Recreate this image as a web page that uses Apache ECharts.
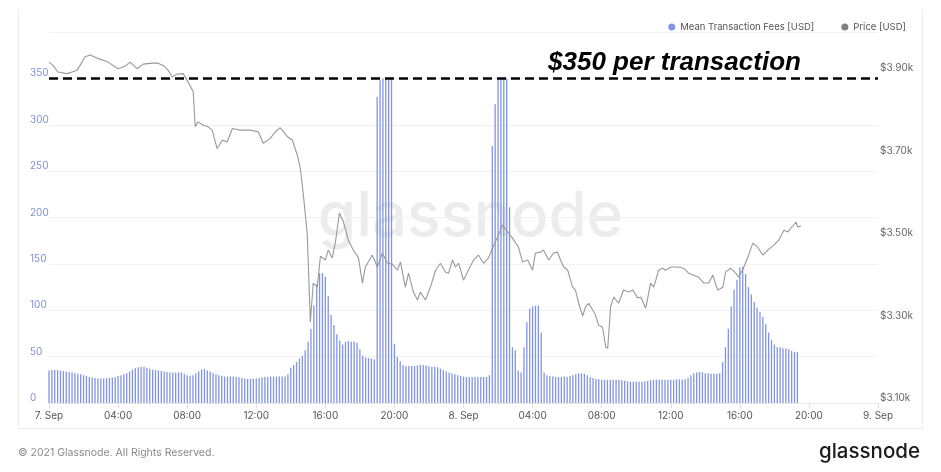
<!DOCTYPE html>
<html>
<head>
<meta charset="utf-8">
<script src="https://cdn.jsdelivr.net/npm/echarts@6/dist/echarts.min.js"></script>
<style>
html,body{margin:0;padding:0;background:#fff;}
#chart{width:941px;height:472px;}
</style>
</head>
<body>
<div id="chart"></div>
<script>
// X axis: minutes since 7 Sep 00:00, ticks every 4 hours
const xTickLabels = ['7. Sep','04:00','08:00','12:00','16:00','20:00','8. Sep','04:00','08:00','12:00','16:00','20:00','9. Sep'];

// Mean Transaction Fees [USD], one bar per 10 minutes starting 7 Sep 00:00
const feeValues = [
  35, 35.5, 35.5, 35.5, 35, 34.5,
  34, 33.5, 33, 32, 31.5, 31,
  30, 29, 28, 27.5, 27, 26.5,
  26.5, 26.5, 26.5, 27, 27.5, 28,
  29, 30, 31, 32, 34, 36,
  37.5, 38.5, 39, 39, 38, 37,
  36, 35.5, 35, 34.5, 34, 33.5,
  33, 33, 32.5, 33, 33, 31.5,
  30, 29.5, 30, 32, 34, 36,
  36.5, 35, 34, 32, 31, 30,
  29, 28.5, 28.5, 28.5, 28.5, 28,
  27.5, 27, 26.5, 26, 26, 26,
  26.5, 27, 27.5, 28, 28, 28.5,
  28.5, 28.5, 28.5, 28.5, 28.5, 31,
  38, 41, 44, 48, 51, 57,
  66, 80, 105, 128, 140, 140,
  136, 115, 95, 84, 74, 67,
  63, 66, 67, 66, 66, 65,
  58, 51, 49, 48.5, 48, 47,
  330, 348, 350, 350, 350, 350,
  64, 50, 45, 41, 40, 40,
  40, 40, 40.5, 41, 41, 40.5,
  39.5, 39, 39, 38.5, 37, 35.5,
  34, 33, 32, 31, 30, 29,
  28.5, 28, 28, 28, 28, 28,
  28, 28, 28, 30, 277, 322,
  350, 350, 350, 350, 211, 60,
  57, 35, 33, 60, 87, 102,
  104, 105, 105, 76, 33, 30,
  29, 28.5, 28, 28, 28, 28.5,
  28, 29, 30, 31, 32, 32,
  31.5, 30, 28, 27, 26, 25.5,
  25, 25, 25, 25, 25, 25,
  25, 24.5, 24, 23.5, 23, 23,
  23, 23, 23, 23.5, 24, 24.5,
  25, 25, 25, 25, 25, 25,
  25, 25, 25.5, 25.5, 25, 25.5,
  27, 30, 32, 33, 33.5, 33,
  32, 32, 31.5, 31.5, 31.5, 32,
  44, 60, 80, 104, 122, 133,
  146, 147, 139, 125, 117, 109,
  103, 98, 93, 85, 76, 68,
  63, 60, 60, 59, 59, 58,
  56, 55, 55
];
const feeStepMinutes = 10;

// Price [USD] samples: minutes since 7 Sep 00:00 and price
const priceMinutes = [0,14,31,63,80,97,108,125,143,170,205,240,264,282,306,327,351,376,397,414,428,445,466,483,501,508,518,536,553,567,584,602,619,637,664,699,727,744,769,786,803,828,845,863,873,883,897,908,918,932,943,960,970,984,995,1009,1023,1040,1057,1075,1089,1099,1123,1141,1158,1176,1193,1210,1221,1238,1249,1266,1280,1290,1308,1325,1343,1360,1377,1388,1402,1412,1423,1440,1457,1475,1492,1510,1527,1541,1558,1576,1593,1610,1631,1645,1663,1680,1690,1708,1718,1736,1753,1767,1777,1788,1802,1819,1829,1840,1854,1864,1875,1889,1899,1909,1923,1934,1941,1951,1962,1979,1996,2014,2028,2045,2056,2073,2090,2101,2118,2132,2142,2160,2184,2205,2222,2240,2257,2275,2292,2306,2323,2341,2351,2368,2386,2396,2414,2428,2445,2462,2480,2497,2518,2535,2553,2567,2581,2595,2601,2612];
const priceValues = [3927,3919,3903,3899,3903,3907,3919,3940,3944,3936,3927,3911,3917,3927,3911,3922,3924,3925,3919,3907,3891,3898,3899,3879,3855,3770,3782,3774,3770,3762,3717,3738,3733,3766,3762,3762,3758,3730,3742,3758,3768,3746,3738,3701,3670,3609,3512,3296,3391,3381,3456,3447,3471,3452,3490,3561,3539,3495,3471,3452,3391,3430,3459,3430,3464,3439,3437,3422,3442,3381,3415,3369,3350,3369,3350,3381,3422,3439,3418,3415,3447,3430,3439,3398,3422,3447,3459,3439,3452,3476,3502,3532,3515,3500,3478,3442,3447,3422,3464,3466,3471,3447,3464,3466,3447,3430,3422,3381,3374,3342,3311,3333,3342,3325,3313,3289,3284,3236,3233,3333,3357,3342,3374,3369,3374,3355,3357,3330,3391,3381,3422,3427,3422,3430,3430,3427,3415,3410,3405,3391,3391,3410,3374,3381,3418,3427,3415,3405,3430,3454,3488,3478,3459,3471,3483,3495,3519,3515,3527,3539,3527,3529];

const thresholdValue = 350;
const thresholdLabel = '$350 per transaction';
const feeName = 'Mean Transaction Fees [USD]';
const priceName = 'Price [USD]';

const chart = echarts.init(document.getElementById('chart'), null, {renderer: 'canvas'});
const FONT = 'Inter, "Noto Sans", sans-serif';

const option = {
  backgroundColor: '#ffffff',
  animation: false,
  textStyle: {fontFamily: FONT},
  grid: {left: 49, right: 63, top: 32, bottom: 69, containLabel: false},
  legend: {
    data: [feeName, priceName],
    right: 30, top: 17,
    icon: 'circle', itemWidth: 7, itemHeight: 7, itemGap: 27,
    textStyle: {color: '#555', fontSize: 9.5, fontFamily: FONT}
  },
  xAxis: {
    type: 'value', min: 0, max: 2880, interval: 240,
    axisLine: {show: true, lineStyle: {color: '#e6e6e6'}},
    axisTick: {show: true, length: 5, lineStyle: {color: '#e0e0e0'}},
    splitLine: {show: false},
    axisLabel: {
      color: '#555', fontSize: 10, margin: 8, fontFamily: FONT,
      formatter: v => xTickLabels[Math.round(v / 240)] || ''
    }
  },
  yAxis: [
    {
      type: 'value', min: 0, max: 400, interval: 50, position: 'left',
      axisLine: {show: false}, axisTick: {show: false},
      splitLine: {show: true, lineStyle: {color: '#f1f1f1', width: 1}},
      axisLabel: {color: '#8090d8', fontSize: 10, align: 'left', verticalAlign: 'bottom', margin: 19, showMaxLabel: false, fontFamily: FONT}
    },
    {
      type: 'value', min: 3100, max: 4000, interval: 200, position: 'right',
      axisLine: {show: false}, axisTick: {show: false},
      splitLine: {show: false},
      axisLabel: {color: '#666', fontSize: 10, margin: 2, verticalAlign: 'bottom', showMaxLabel: false, fontFamily: FONT,
        formatter: v => '$' + (v / 1000).toFixed(2) + 'k'}
    }
  ],
  series: [
    {
      name: feeName, type: 'bar', yAxisIndex: 0, barWidth: 1.3,
      itemStyle: {color: '#8294e6'},
      data: feeValues.map((v, i) => [i * feeStepMinutes, v]),
      markLine: {
        silent: true, symbol: 'none',
        lineStyle: {color: '#000', width: 2.5, type: [9, 5]},
        label: {show: false},
        data: [{yAxis: thresholdValue}]
      },
      z: 2
    },
    {
      name: priceName, type: 'line', yAxisIndex: 1, showSymbol: false, symbol: 'none',
      lineStyle: {color: '#999999', width: 1.1},
      itemStyle: {color: '#808080'},
      data: priceMinutes.map((m, i) => [m, priceValues[i]]),
      z: 3
    }
  ],
  graphic: [
    {type: 'text', left: 'center', top: 186, z: 0, silent: true,
      style: {text: 'glassnode', font: '500 62px Inter, "Noto Sans", sans-serif', fill: '#ececec'}},
    {type: 'text', left: 548, top: 50, z: 10, silent: true,
      style: {text: thresholdLabel, font: 'italic bold 26px "Liberation Sans", Arial, sans-serif', fill: '#000'}},
    {type: 'text', left: 18, top: 447, silent: true,
      style: {text: '© 2021 Glassnode. All Rights Reserved.', font: '10.5px Inter, "Noto Sans", sans-serif', fill: '#8a8a8a'}},
    {type: 'text', right: 21, top: 441, silent: true,
      style: {text: 'glassnode', font: '500 20.5px Inter, "Noto Sans", sans-serif', fill: '#1c1c1c'}},
    {type: 'line', silent: true, shape: {x1: 18.5, y1: 10, x2: 18.5, y2: 428}, style: {stroke: '#ececec', lineWidth: 1}},
    {type: 'line', silent: true, shape: {x1: 922.5, y1: 10, x2: 922.5, y2: 428}, style: {stroke: '#ececec', lineWidth: 1}},
    {type: 'line', silent: true, shape: {x1: 18, y1: 428.5, x2: 923, y2: 428.5}, style: {stroke: '#ececec', lineWidth: 1}}
  ]
};
chart.setOption(option);
</script>
</body>
</html>
